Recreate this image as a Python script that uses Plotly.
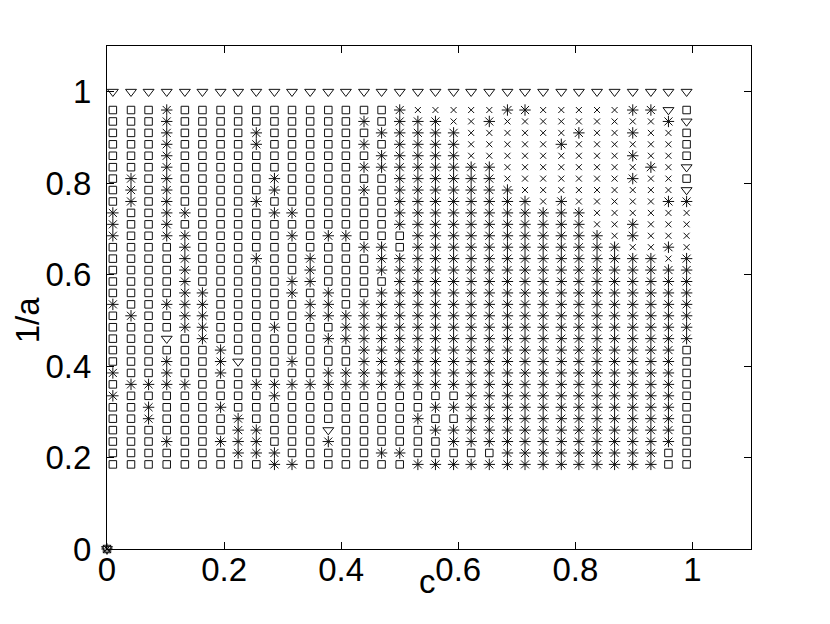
import plotly.graph_objects as go

# column values of c (x) and row values of 1/a (y)
c_vals = [0.01, 0.041, 0.071, 0.102, 0.133, 0.163, 0.194, 0.224, 0.255, 0.286, 0.316,
          0.347, 0.378, 0.408, 0.439, 0.469, 0.5, 0.531, 0.561, 0.592, 0.622, 0.653,
          0.684, 0.714, 0.745, 0.776, 0.806, 0.837, 0.867, 0.898, 0.929, 0.959, 0.99]
inv_a_vals = [1.0, 0.96, 0.935, 0.91, 0.885, 0.86, 0.835, 0.81, 0.785, 0.76, 0.735, 0.71,
              0.685, 0.66, 0.635, 0.61, 0.585, 0.56, 0.535, 0.51, 0.485, 0.46, 0.435,
              0.41, 0.385, 0.36, 0.335, 0.31, 0.285, 0.26, 0.235, 0.21, 0.185]

# regime of each grid cell: s = square, a = asterisk, x = cross, v = triangle
regimes = [
    "vvvvvvvvvvvvvvvvvvvvvvvvvvvvvvvvv",
    "sssassss" + "ssssssss" + "axxxxxaa" + "xxxxxaavs",
    "sssassss" + "ssssssas" + "aaaxxaxx" + "xxxxxxxav",
    "sssassss" + "assssssa" + "aaaaxxxx" + "xxaxxaxxs",
    "sssassss" + "asssssas" + "aaaaxxxx" + "xaxxxxxxs",
    "sssassss" + "sssssssa" + "aaaaxxxx" + "xxxxxaxxs",
    "sssassss" + "ssssssaa" + "aaaaaaxx" + "xxxxxxaxv",
    "sasassss" + "sassssss" + "aaaaaaxx" + "xxxxxaxxs",
    "sasassss" + "sassssas" + "aaaaaaax" + "xxxxxxxxv",
    "sasassss" + "asssssss" + "aaaaaaaa" + "xaxxxxxaa",
    "assaasss" + "saasssss" + "aaaaaaaa" + "aaaxxxxxx",
    "assassss" + "ssssssss" + "aaaaaaaa" + "aaaxxaxxx",
    "assaasss" + "ssasaass" + "saaaaaaa" + "aaaaxaxxx",
    "ssssasss" + "ssssssaa" + "saaaaaaa" + "aaaaaxxax",
    "ssssasss" + "assasssa" + "aaaaaaaa" + "aaaaaaaxa",
    "ssssasss" + "sssasssa" + "aaaaaaaa" + "aaaaaaaaa",
    "ssssasss" + "ssaassss" + "aaaaaaaa" + "aaaaaaaaa",
    "ssssaass" + "ssasassa" + "aaaaaaaa" + "aaaaaaaaa",
    "assaaass" + "sssaasaa" + "aaaaaaaa" + "aaaaaaaaa",
    "sassaass" + "sssaaaaa" + "aaaaaaaa" + "aaaaaaaaa",
    "ssssaass" + "sasssaaa" + "aaaaaaaa" + "aaaaaaaaa",
    "sssvsass" + "ssssaaaa" + "aaaaaaaa" + "aaaaaaaaa",
    "ssssssas" + "ssssssaa" + "aaaaaaaa" + "aaaaaaaas",
    "sssassav" + "ssasssaa" + "aaaaaaaa" + "aaaaaaaas",
    "assassas" + "ssssaaaa" + "aaaaaaaa" + "aaaaaaaas",
    "saaaasss" + "aaaaaaaa" + "aaaaaaaa" + "aaaaaaaas",
    "asssssss" + "sassssss" + "ssssaaaa" + "aaaaaaaas",
    "ssasssas" + "ssssssss" + "ssaaaaaa" + "aaaaaaaas",
    "ssassssa" + "ssssssss" + "sassaaaa" + "aaaaaaaas",
    "sssssssa" + "asssvsss" + "ssaaaaaa" + "aaaaaaaas",
    "sssassaa" + "asssasss" + "sssaaaaa" + "aaaaaaaas",
    "sssssssa" + "aasssssa" + "asssssaa" + "aaaaaaass",
    "ssssssss" + "saasssss" + "saaaaaaa" + "aaaaaaass",
]

# extra points plotted at the origin
origin_c = [0.0, 0.0, 0.0, 0.0]
origin_inv_a = [0.0, 0.0, 0.0, 0.0]
origin_regime = ["s", "a", "x", "v"]

styles = {
    "s": dict(symbol="square-open", size=7.5),
    "a": dict(symbol="asterisk-open", size=9.5),
    "x": dict(symbol="x-thin-open", size=6),
    "v": dict(symbol="triangle-down-open", size=9.5),
}

fig = go.Figure()
for key, st in styles.items():
    xs, ys = [], []
    for yi, row in zip(inv_a_vals, regimes):
        for xi, ch in zip(c_vals, row):
            if ch == key:
                xs.append(xi)
                ys.append(yi)
    for xi, yi, ch in zip(origin_c, origin_inv_a, origin_regime):
        if ch == key:
            xs.append(xi)
            ys.append(yi)
    fig.add_trace(go.Scatter(
        x=xs, y=ys, mode="markers", showlegend=False, cliponaxis=False,
        marker=dict(symbol=st["symbol"], size=st["size"], color="#111111",
                    line=dict(color="#111111", width=1)),
        hoverinfo="skip"))

tick_vals = [0, 0.2, 0.4, 0.6, 0.8, 1]
tick_text = ["0", "0.2", "0.4", "0.6", "0.8", "1"]
font_family = "Liberation Sans, Arial, Helvetica, sans-serif"
fsize = 33

axis_common = dict(range=[0, 1.1], tickvals=tick_vals, ticktext=tick_text,
                   ticks="inside", ticklen=7, tickwidth=1, tickcolor="black",
                   showline=True, linecolor="black", linewidth=1, mirror="ticks",
                   showgrid=False, zeroline=False,
                   tickfont=dict(family=font_family, size=fsize, color="black"))

fig.update_layout(
    width=830, height=624,
    margin=dict(l=99, r=87, t=38, b=83),
    paper_bgcolor="white", plot_bgcolor="white",
    xaxis=dict(**axis_common, ticklabelstandoff=-9),
    yaxis=dict(**axis_common, ticklabelstandoff=8),
    annotations=[
        dict(text="c", xref="paper", yref="paper", x=0.497, y=-0.064,
             xanchor="center", yanchor="middle", showarrow=False,
             font=dict(family=font_family, size=fsize, color="black")),
        dict(text="1/a", xref="paper", yref="paper", x=-0.124, y=0.455,
             xanchor="center", yanchor="middle", showarrow=False, textangle=-90,
             font=dict(family=font_family, size=fsize, color="black")),
    ],
)

fig.write_html("out.html")
